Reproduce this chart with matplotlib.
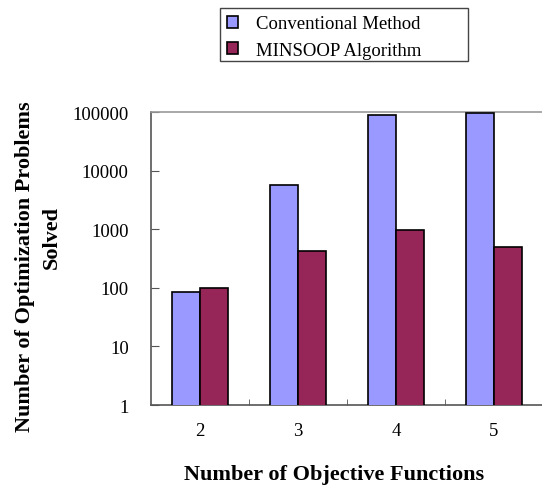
import matplotlib
matplotlib.use("Agg")
import matplotlib.pyplot as plt
from matplotlib.patches import Patch, Rectangle
import numpy as np

# Data
categories = ["2", "3", "4", "5"]
conventional = [85, 5600, 90000, 96000]
minsoop = [100, 420, 980, 490]
y_ticks = [1, 10, 100, 1000, 10000, 100000]
y_labels = ["1", "10", "100", "1000", "10000", "100000"]

conv_color = "#9999FF"
minsoop_color = "#962657"

plt.rcParams["font.family"] = ["Liberation Serif", "DejaVu Serif"]

W, H = 542, 489
fig = plt.figure(figsize=(W / 100, H / 100), dpi=100)
ax = fig.add_axes([0.2786, 0.1697, 0.7232, 0.5992])

x = np.arange(len(categories))
w = 0.29
ax.bar(x - 0.145, conventional, width=w, color=conv_color, edgecolor="black", linewidth=1.2, zorder=3)
ax.bar(x + 0.145, minsoop, width=w, color=minsoop_color, edgecolor="black", linewidth=1.2, zorder=3)

ax.set_yscale("log")
ax.set_ylim(1, 100000)
ax.set_xlim(-0.5, len(categories) - 0.5)
ax.yaxis.set_major_locator(matplotlib.ticker.FixedLocator(y_ticks))
ax.yaxis.set_minor_locator(matplotlib.ticker.NullLocator())
ax.set_yticklabels(y_labels)

ax.set_xticks(x)
ax.set_xticklabels(categories)
ax.set_xticks(x[:-1] + 0.5, minor=True)
ax.tick_params(axis="x", which="major", length=0, pad=12, labelsize=13.5)
ax.tick_params(axis="x", which="minor", direction="in", length=4, color="#555555")
ax.tick_params(axis="y", which="major", direction="in", length=6, pad=16, labelsize=13.5, color="#555555")

for side in ["left", "bottom"]:
    ax.spines[side].set_color("#555555")
    ax.spines[side].set_linewidth(1.2)
ax.spines["top"].set_color("#999999")
ax.spines["top"].set_linewidth(1.2)
ax.spines["right"].set_visible(False)

fig.text(0.3395, 0.028, "Number of Objective Functions", ha="left", va="center",
         fontsize=16, fontweight="bold")
fig.text(25 / W, 1 - 267 / H, "Number of Optimization Problems", rotation=90,
         ha="center", va="center", fontsize=16, fontweight="bold")
fig.text(52 / W, 1 - 238 / H, "Solved", rotation=90,
         ha="center", va="center", fontsize=16, fontweight="bold")

# legend box drawn by hand (Excel style with wide right padding)
fig.patches.append(Rectangle((220 / W, 1 - 62 / H), 248 / W, 53 / H, transform=fig.transFigure,
                             facecolor="white", edgecolor="#444444", linewidth=1.0))
handles = [Patch(facecolor=conv_color, edgecolor="black", linewidth=1.2),
           Patch(facecolor=minsoop_color, edgecolor="black", linewidth=1.2)]
leg = fig.legend(handles, ["Conventional Method", "MINSOOP Algorithm"],
                 loc="center left", bbox_to_anchor=(227 / W, 1 - 38 / H), fontsize=13.5,
                 frameon=False, handlelength=0.6, handleheight=0.6,
                 handletextpad=0.95, borderpad=0, borderaxespad=0, labelspacing=0.5)

plt.savefig("out.png", dpi=100)
plt.close()
